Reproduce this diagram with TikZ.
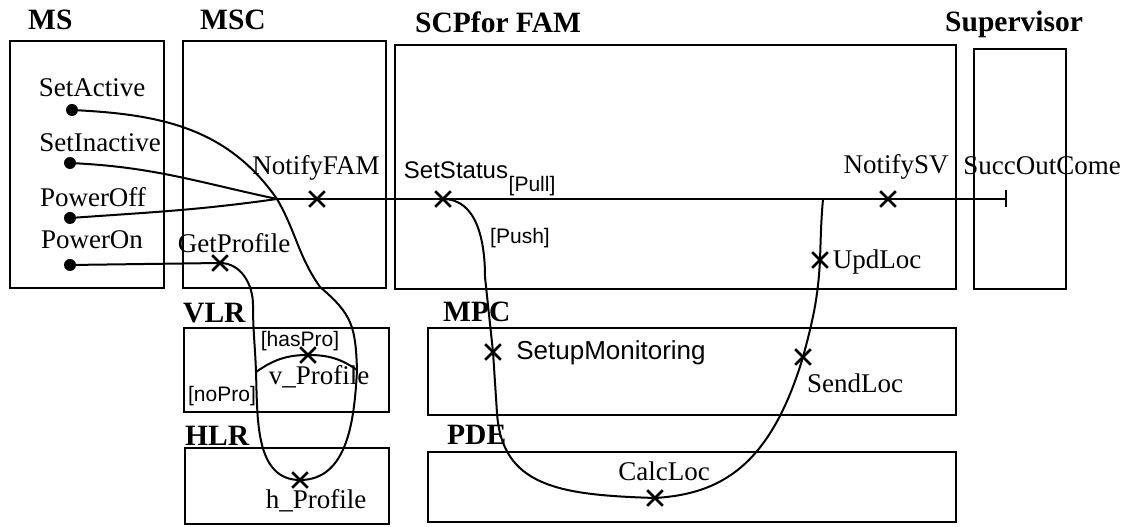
\documentclass[tikz,border=0pt]{standalone}
\usepackage{fontspec}
\setmainfont{Liberation Serif}
\setsansfont{Liberation Sans}
\usetikzlibrary{arrows.meta,positioning,shapes.misc}
\tikzset{
  box/.style={draw, line width=1.8pt, anchor=north west, inner sep=0pt},
  title/.style={inner sep=0pt, text depth=0pt, font=\fontsize{29.5}{30}\selectfont\bfseries},
  lbl/.style={inner sep=0pt, font=\fontsize{27}{30}\selectfont},
  slbl/.style={inner sep=0pt, font=\fontsize{24}{28}\selectfont\sffamily},
  guard/.style={inner sep=0pt, font=\fontsize{21}{24}\selectfont\sffamily},
  xmark/.style={cross out, draw, line width=2.6pt, minimum size=13pt, inner sep=0pt},
  dot/.style={circle, fill, inner sep=0pt, minimum size=12pt},
  wire/.style={line width=2pt}
}

\begin{document}
\begin{tikzpicture}[x=1pt, y=1pt]
        \useasboundingbox (0,0) rectangle (1127,527);
        \node[box, minimum width=154pt, minimum height=247pt] (ms) at (9,487) {};
        \node[box, minimum width=203pt, minimum height=247pt] (msc) at (182,487) {};
        \node[box, minimum width=561pt, minimum height=244pt] (scp) at (394,483) {};
        \node[box, minimum width=92pt, minimum height=240pt] (sv) at (973,479) {};
        \node[box, minimum width=205pt, minimum height=84pt] (vlr) at (183,200) {};
        \node[box, minimum width=204pt, minimum height=76pt] (hlr) at (184,80) {};
        \node[box, minimum width=528pt, minimum height=87pt] (mpc) at (427,200) {};
        \node[box, minimum width=528pt, minimum height=70pt] (pde) at (427,76) {};
        \node[title, above right=10pt and 19pt of ms.north west] (msT) {MS};
        \node[title, above right=10pt and 18pt of msc.north west] (mscT) {MSC};
        \node[title, above right=11pt and 21pt of scp.north west] (scpT) {SCPfor FAM};
        \node[title, above right=16pt and -28pt of sv.north west] (svT) {Supervisor};
        \node[title, above right=4pt and 0pt of vlr.north west] (vlrT) {VLR};
        \node[title, above right=1pt and 1pt of hlr.north west] (hlrT) {HLR};
        \node[title, above right=5pt and 16pt of mpc.north west] (mpcT) {MPC};
        \node[title, above right=6pt and 20pt of pde.north west] (pdeT) {PDE};
        \node[dot] (sa) at (72,417) {};
        \node[dot] (si) at (70,364) {};
        \node[dot] (poff) at (70,309) {};
        \node[dot] (pon) at (70,262) {};
        \coordinate (jn) at (277,328);
        \coordinate (soc) at (1007,328);
        \coordinate (loopR) at (320,240);
        \coordinate (vr) at (357,157);
        \coordinate (vl) at (256,155);
        \coordinate (drop) at (253,222);
        \coordinate (push) at (485,250);
        \coordinate (pdeIn) at (497,114);
        \coordinate (back) at (823,328);
        \node[xmark] (nfam) at (317,328) {};
        \node[xmark] (sst) at (443,328) {};
        \node[xmark] (nsv) at (888,328) {};
        \node[xmark] (upd) at (820,267) {};
        \node[xmark] (send) at (803,170) {};
        \node[xmark] (setup) at (493,175) {};
        \node[xmark] (calc) at (655,29) {};
        \node[xmark] (getp) at (220,264) {};
        \node[xmark] (vprof) at (308,172) {};
        \node[xmark] (hprof) at (300,47) {};
        \draw[wire] (sa) to[out=-3,in=125] (jn);
        \draw[wire] (si) to[out=-3,in=168] (jn);
        \draw[wire] (poff) to[out=4,in=-172] (jn);
        \draw[wire, -{Bar[width=17pt]}] (jn) -- (soc);
        \draw[wire] (jn) to[out=-60,in=125] (loopR) to[out=-40,in=92,looseness=1.2] (vr) to[out=-93,in=0] (hprof.center);
        \draw[wire] (pon) -- (getp.center) to[out=0,in=90] (drop) to[out=-90,in=92] (vl) to[out=-88,in=180] (hprof.center);
        \draw[wire] (vl) to[out=35,in=180] (vprof.center) to[out=0,in=145] (vr);
        \draw[wire] (sst.center) to[out=0,in=90] (push) -- (setup.center) -- (pdeIn)
          .. controls (502,40) and (560,32) .. (calc.center)
          .. controls (720,33) and (770,60) .. (send.center)
          to[out=75,in=-93] (upd.center) to[out=88,in=-95] (back);
        \node[lbl] (saL) at (92,439) {SetActive};
        \node[lbl] (siL) at (100,384) {SetInactive};
        \node[lbl] (poffL) at (93,330) {PowerOff};
        \node[lbl] (ponL) at (92,287) {PowerOn};
        \node[lbl] (nfamL) at (316,359) {NotifyFAM};
        \node[lbl] (getpL) at (234,284) {GetProfile};
        \node[slbl] (sstL) at (456,357) {SetStatus};
        \node[guard] (pullL) at (532,341) {[Pull]};
        \node[guard] (pushL) at (520,289) {[Push]};
        \node[lbl] (nsvL) at (896,360) {NotifySV};
        \node[lbl] (socL) at (1042,361) {SuccOutCome};
        \node[lbl] (updL) at (877,265) {UpdLoc};
        \node[slbl, font=\fontsize{26}{30}\selectfont\sffamily] (setupL) at (611,174) {SetupMonitoring};
        \node[lbl] (sendL) at (855,144) {SendLoc};
        \node[lbl] (calcL) at (664,56) {CalcLoc};
        \node[guard] (hasL) at (300,186) {[hasPro]};
        \node[lbl] (vprofL) at (319,150) {v\_Profile};
        \node[guard] (noL) at (222,131) {[noPro]};
        \node[lbl] (hprofL) at (316,26) {h\_Profile};
      \end{tikzpicture}
\end{document}
